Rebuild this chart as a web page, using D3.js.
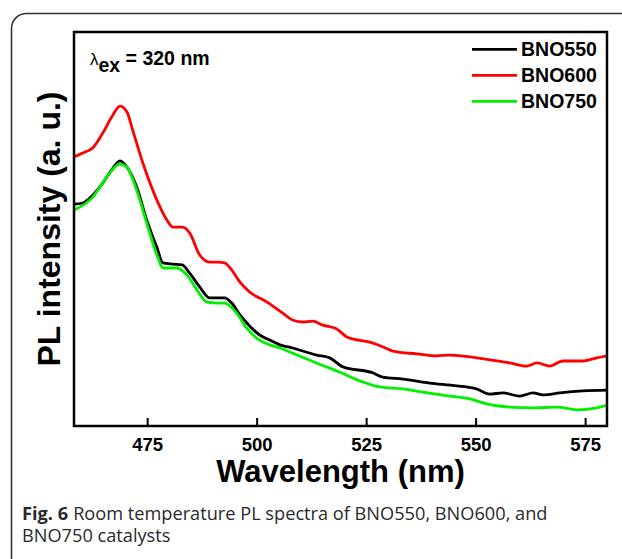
<!DOCTYPE html>
<html>
<head>
<meta charset="utf-8">
<script src="https://cdn.jsdelivr.net/npm/d3@7"></script>
<style>
  html, body { margin: 0; padding: 0; background: #fff; }
  svg { display: block; }
</style>
</head>
<body>
<svg id="chart" width="622" height="559"></svg>
<script>
// Room-temperature PL spectra (excitation 320 nm), intensity in arbitrary units
const wl550 = [458.3, 460.3, 462.6, 464.9, 466.9, 468.8, 470.4, 472.6, 474.9, 477.2, 478.6, 480.9, 483.0, 484.7, 487.0, 489.3, 491.1, 492.7, 494.3, 496.2, 498.4, 500.7, 503.0, 505.3, 508.2, 513.7, 516.7, 519.7, 526.5, 528.8, 533.4, 539.5, 545.7, 550.2, 553.2, 556.2, 560.1, 563.1, 565.4, 569.2, 574.5, 580.0];
const bno550 = [56.3, 56.6, 58.6, 61.7, 65.0, 67.3, 65.7, 60.7, 52.3, 45.4, 41.4, 41.1, 40.9, 38.8, 35.3, 32.5, 32.5, 32.5, 31.2, 28.2, 25.4, 23.1, 21.8, 20.6, 19.8, 18.0, 17.3, 15.0, 13.5, 12.4, 11.9, 10.9, 10.2, 9.4, 8.1, 8.4, 7.6, 8.4, 7.9, 8.4, 8.9, 9.1];

const wl600 = [458.3, 460.3, 462.6, 464.9, 466.9, 468.8, 470.4, 471.7, 474.0, 477.2, 479.5, 480.9, 483.1, 484.7, 487.0, 489.3, 491.1, 492.7, 494.3, 496.2, 498.4, 502.3, 505.9, 508.2, 510.5, 512.8, 515.1, 518.3, 520.6, 521.9, 525.8, 528.8, 531.1, 536.6, 541.1, 544.1, 550.2, 557.8, 561.7, 564.0, 566.9, 569.9, 574.5, 577.7, 580.0];
const bno600 = [68.3, 69.3, 70.6, 74.4, 78.4, 81.2, 79.7, 75.1, 66.8, 57.4, 52.3, 50.5, 50.5, 49.0, 43.4, 41.6, 41.6, 41.4, 39.6, 36.5, 34.0, 31.5, 28.7, 26.9, 26.4, 26.6, 25.6, 24.6, 22.6, 22.1, 21.3, 20.1, 19.0, 18.3, 17.8, 18.0, 17.3, 16.0, 15.2, 16.0, 15.2, 16.5, 16.5, 17.3, 17.8];

const wl750 = [458.3, 462.6, 465.8, 468.8, 470.4, 472.6, 474.9, 477.4, 478.6, 481.8, 484.1, 486.4, 488.6, 490.9, 492.7, 495.4, 497.7, 500.0, 503.0, 505.3, 508.2, 513.7, 518.9, 524.2, 528.1, 533.4, 537.9, 544.1, 548.7, 552.5, 557.8, 563.1, 568.6, 573.1, 577.7, 580.0];
const bno750 = [54.8, 58.1, 63.2, 66.5, 65.7, 59.9, 51.5, 42.9, 40.1, 40.1, 38.3, 34.5, 31.5, 31.2, 31.2, 28.7, 24.9, 22.3, 20.6, 19.8, 18.5, 16.0, 13.7, 11.2, 9.9, 9.4, 8.6, 7.6, 6.9, 5.6, 4.8, 4.6, 4.8, 4.1, 4.6, 5.3];

const seriesNames = ["BNO550", "BNO600", "BNO750"];
const seriesColors = ["#000000", "#ff0000", "#00f000"];
const xTicks = [475, 500, 525, 550, 575];

const series = [
  { name: seriesNames[0], color: seriesColors[0], pts: wl550.map((w, i) => [w, bno550[i]]) },
  { name: seriesNames[1], color: seriesColors[1], pts: wl600.map((w, i) => [w, bno600[i]]) },
  { name: seriesNames[2], color: seriesColors[2], pts: wl750.map((w, i) => [w, bno750[i]]) }
];
// draw order: red, black, green on top
const drawOrder = [series[1], series[0], series[2]];

const svg = d3.select("#chart");
const plot = { left: 74, top: 32, right: 607, bottom: 426 };

// figure panel frame
svg.append("rect")
  .attr("x", 11.5).attr("y", 13.5)
  .attr("width", 640).attr("height", 560)
  .attr("rx", 15).attr("ry", 15)
  .attr("fill", "none").attr("stroke", "#333").attr("stroke-width", 1.6);

const x = d3.scaleLinear().domain([458.3, 580]).range([plot.left, plot.right]);
const y = d3.scaleLinear().domain([0, 100]).range([plot.bottom, plot.top]);

svg.append("defs").append("clipPath").attr("id", "clip")
  .append("rect").attr("x", plot.left).attr("y", plot.top)
  .attr("width", plot.right - plot.left).attr("height", plot.bottom - plot.top);

const lineGen = d3.line().x(d => x(d[0])).y(d => y(d[1])).curve(d3.curveMonotoneX);

svg.append("g").attr("clip-path", "url(#clip)")
  .selectAll("path").data(drawOrder).join("path")
  .attr("d", d => lineGen(d.pts))
  .attr("fill", "none")
  .attr("stroke", d => d.color)
  .attr("stroke-width", 2.8)
  .attr("stroke-linejoin", "round");

// x axis with inward ticks
const xAxis = d3.axisBottom(x).tickValues(xTicks).tickSizeInner(-8).tickSizeOuter(0).tickPadding(12);
const gx = svg.append("g").attr("transform", `translate(0,${plot.bottom})`).call(xAxis);
gx.select(".domain").remove();
gx.selectAll(".tick line").attr("stroke", "#000").attr("stroke-width", 2);
gx.selectAll(".tick text")
  .attr("font-family", "'Liberation Sans', Arial, sans-serif")
  .attr("font-weight", "bold").attr("font-size", 18.5).attr("fill", "#000");

// plot frame
svg.append("rect")
  .attr("x", plot.left).attr("y", plot.top)
  .attr("width", plot.right - plot.left).attr("height", plot.bottom - plot.top)
  .attr("fill", "none").attr("stroke", "#000").attr("stroke-width", 2.5);

const bold = "'Liberation Sans', Arial, sans-serif";

// axis titles
svg.append("text")
  .attr("x", (plot.left + plot.right) / 2).attr("y", 482)
  .attr("text-anchor", "middle")
  .attr("font-family", bold).attr("font-weight", "bold").attr("font-size", 31)
  .text("Wavelength (nm)");

svg.append("text")
  .attr("transform", "translate(60,229) rotate(-90)")
  .attr("text-anchor", "middle")
  .attr("font-family", bold).attr("font-weight", "bold").attr("font-size", 32)
  .text("PL intensity (a. u.)");

// excitation wavelength annotation
const ann = svg.append("text")
  .attr("x", 90).attr("y", 65)
  .attr("font-family", bold).attr("font-size", 19.5).attr("font-weight", "bold");
ann.append("tspan").attr("font-weight", "normal").attr("font-size", 17).text("λ");
ann.append("tspan").attr("dy", 7).text("ex");
ann.append("tspan").attr("dy", -7).text(" = 320 nm");

// legend
const lg = svg.append("g");
series.forEach((s, i) => {
  const yy = 49.3 + i * 26;
  lg.append("line")
    .attr("x1", 472).attr("x2", 517).attr("y1", yy).attr("y2", yy)
    .attr("stroke", s.color).attr("stroke-width", 2.8);
  lg.append("text")
    .attr("x", 521).attr("y", yy + 7)
    .attr("font-family", bold).attr("font-weight", "bold").attr("font-size", 19.5)
    .text(s.name);
});

// caption
const cap = svg.append("g")
  .attr("font-family", "'Open Sans', 'Noto Sans', sans-serif")
  .attr("font-size", 18.2).attr("fill", "#2a2a2a");
const figLabel = cap.append("text").attr("x", 22).attr("y", 520)
  .attr("font-weight", "bold").text("Fig. 6");
const labelW = figLabel.node().getComputedTextLength();
cap.append("text").attr("x", 22 + labelW + 5).attr("y", 520)
  .text("Room temperature PL spectra of BNO550, BNO600, and");
cap.append("text").attr("x", 22).attr("y", 542).text("BNO750 catalysts");
</script>
</body>
</html>
